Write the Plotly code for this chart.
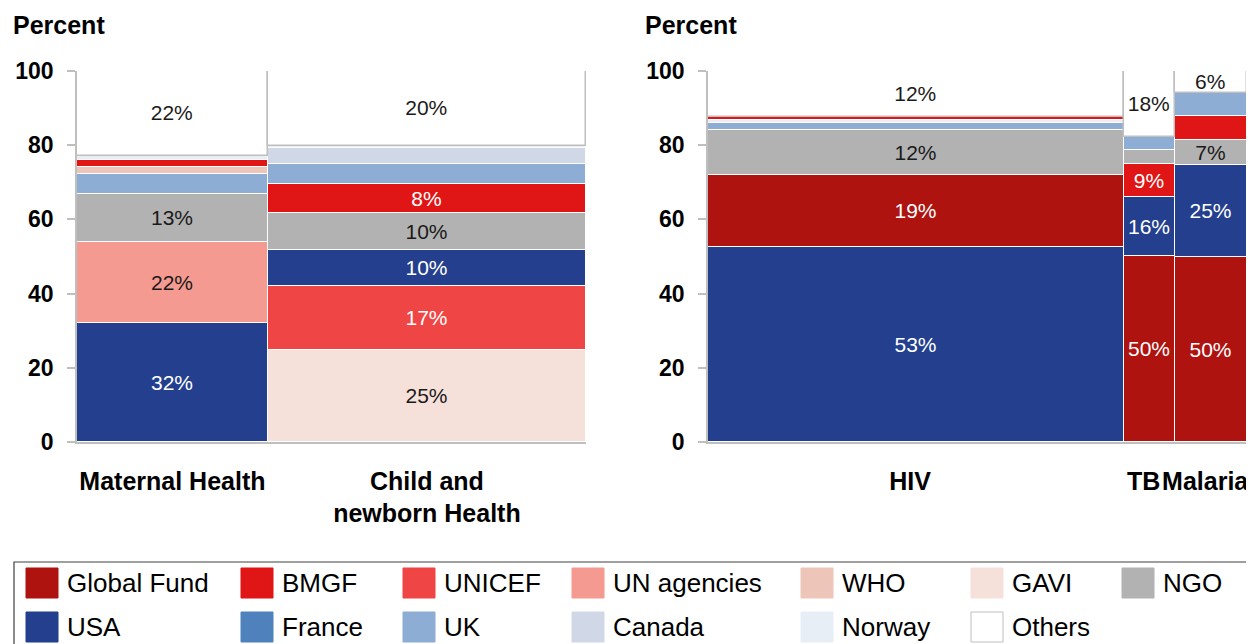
import plotly.graph_objects as go

# the page body adds an 8px offset, so the figure is drawn 8px smaller and
# every reference pixel position is shifted back by that offset
OFF = 8
W, H = 1254 - OFF, 644 - OFF
FONT = "Liberation Sans, Arial, sans-serif"


def px(x):
    return (x - OFF) / W


def py(y):
    return 1 - (y - OFF) / H


# funders in legend order
funders = ["Global Fund", "BMGF", "UNICEF", "UN agencies", "WHO", "GAVI", "NGO",
           "USA", "France", "UK", "Canada", "Norway", "Others"]
funder_colors = {
    "Global Fund": "#ae1310",
    "BMGF": "#e01515",
    "UNICEF": "#ef4545",
    "UN agencies": "#f59a90",
    "WHO": "#edc6b9",
    "GAVI": "#f6e1da",
    "NGO": "#b2b2b2",
    "USA": "#233f8e",
    "France": "#4f81bd",
    "UK": "#8eadd5",
    "Canada": "#d0d8e8",
    "Norway": "#e8eef6",
    "Others": "#ffffff",
}
dark_funders = {"Global Fund", "BMGF", "UNICEF", "USA", "France"}

# --- left panel: maternal / child health ---
mch_categories = ["Maternal Health", "Child and<br>newborn Health"]
mch_widths = [37.5, 62.5]  # share of total funding (bar width)
mch_shares = {
    "USA": [32.0, 9.7],
    "UN agencies": [22.0, 0.0],
    "NGO": [12.8, 10.0],
    "UK": [5.4, 5.4],
    "WHO": [2.0, 0.0],
    "BMGF": [1.8, 7.8],
    "GAVI": [0.0, 24.8],
    "UNICEF": [0.0, 17.2],
    "Canada": [0.0, 4.3],
    "Norway": [1.2, 0.6],
    "Others": [22.8, 20.2],
}
mch_stack = [
    ["USA", "UN agencies", "NGO", "UK", "WHO", "BMGF", "Norway", "Others"],
    ["GAVI", "UNICEF", "USA", "NGO", "BMGF", "UK", "Canada", "Norway", "Others"],
]
mch_labels = [
    {"USA": "32%", "UN agencies": "22%", "NGO": "13%", "Others": "22%"},
    {"GAVI": "25%", "UNICEF": "17%", "USA": "10%", "NGO": "10%", "BMGF": "8%",
     "Others": "20%"},
]

# --- right panel: HIV / TB / Malaria ---
dis_categories = ["HIV", "TB", "Malaria"]
dis_widths = [77.2, 9.5, 13.3]
dis_shares = {
    "USA": [52.5, 16.0, 24.8],
    "Global Fund": [19.6, 50.1, 49.8],
    "NGO": [12.1, 3.8, 6.7],
    "UK": [1.8, 3.4, 6.4],
    "Norway": [0.7, 0.0, 0.0],
    "BMGF": [0.9, 8.9, 6.5],
    "Others": [12.4, 17.8, 5.8],
}
dis_stack = [
    ["USA", "Global Fund", "NGO", "UK", "Norway", "BMGF", "Others"],
    ["Global Fund", "USA", "BMGF", "NGO", "UK", "Others"],
    ["Global Fund", "USA", "NGO", "BMGF", "UK", "Others"],
]
dis_labels = [
    {"USA": "53%", "Global Fund": "19%", "NGO": "12%", "Others": "12%"},
    {"Global Fund": "50%", "USA": "16%", "BMGF": "9%", "Others": "18%"},
    {"Global Fund": "50%", "USA": "25%", "NGO": "7%", "Others": "6%"},
]


def add_panel(fig, categories, widths, shares, stack, labels, xref, yref):
    centers = []
    left = 0.0
    for w in widths:
        centers.append(left + w / 2)
        left += w

    for funder in funders:
        if funder not in shares:
            continue
        vals = shares[funder]
        bases, texts = [], []
        for i, order in enumerate(stack):
            if funder in order:
                below = order[:order.index(funder)]
                bases.append(sum(shares[f][i] for f in below))
            else:
                bases.append(0.0)
            texts.append(labels[i].get(funder, ""))

        is_other = funder == "Others"
        fig.add_trace(go.Bar(
            x=centers,
            y=vals,
            base=bases,
            width=widths,
            name=funder,
            text=texts,
            textposition="inside",
            insidetextanchor="middle",
            textangle=0,
            textfont=dict(
                family=FONT, size=21,
                color="white" if funder in dark_funders else "#1a1a1a",
            ),
            marker=dict(
                color=funder_colors[funder],
                line=dict(color="#bfbfbf" if is_other else "white",
                          width=1.5 if is_other else 1),
            ),
            showlegend=False,
            xaxis=xref,
            yaxis=yref,
        ))
    return centers, left


fig = go.Figure()
mch_centers, mch_total = add_panel(fig, mch_categories, mch_widths, mch_shares,
                                   mch_stack, mch_labels, "x", "y")
dis_centers, dis_total = add_panel(fig, dis_categories, dis_widths, dis_shares,
                                   dis_stack, dis_labels, "x2", "y2")

y_dom = [py(442), py(71)]
xaxis_common = dict(
    showline=True, linecolor="#bfbfbf", linewidth=1.5,
    ticks="", showgrid=False, zeroline=False, automargin=False,
    ticklabeloverflow="allow", tickangle=0,
    tickfont=dict(family=FONT, size=25, color="black", weight="bold"),
    ticklabelstandoff=16,
)
yaxis_common = dict(
    range=[0, 100], dtick=20,
    showline=True, linecolor="#bfbfbf", linewidth=1.5,
    ticks="outside", ticklen=8, tickcolor="#bfbfbf", tickwidth=1.5,
    showgrid=False, zeroline=False, automargin=False,
    tickfont=dict(family=FONT, size=23, color="black", weight="bold"),
    ticklabelstandoff=9,
)

fig.update_layout(
    width=W, height=H,
    margin=dict(l=0, r=0, t=0, b=0, autoexpand=False),
    paper_bgcolor="white", plot_bgcolor="white",
    barmode="overlay",
    bargap=0,
    uniformtext=dict(minsize=21, mode="show"),
    font=dict(family=FONT, color="black"),
    xaxis=dict(domain=[px(77), px(586)], range=[0, mch_total],
               tickvals=mch_centers, ticktext=mch_categories, **xaxis_common),
    yaxis=dict(domain=y_dom, anchor="x", **yaxis_common),
    xaxis2=dict(domain=[px(708), px(1247)], range=[0, dis_total], anchor="y2",
                tickvals=dis_centers, ticktext=dis_categories,
                ticklabelshift=-6, **xaxis_common),
    yaxis2=dict(domain=y_dom, anchor="x2", **yaxis_common),
)

# "Percent" axis titles
for x_left in (14, 646):
    fig.add_annotation(
        x=px(x_left - 3), y=py(25), xref="paper", yref="paper",
        xanchor="left", yanchor="middle", showarrow=False,
        text="<b>Percent</b>", font=dict(family=FONT, size=25, color="black"),
    )

# legend drawn as a framed grid of swatches
legend_cols = [26, 241, 403, 572, 801, 971, 1122]
legend_rows = [583, 627]
sw_w, sw_h = 32, 30

fig.add_shape(type="rect", xref="paper", yref="paper",
              x0=px(14), x1=px(1252), y0=-0.05, y1=py(562),
              line=dict(color="#404040", width=1.2), fillcolor="rgba(0,0,0,0)")

for k, funder in enumerate(funders):
    col, row = k % 7, k // 7
    x0 = legend_cols[col]
    yc = legend_rows[row]
    edge = "#bfbfbf" if funder == "Others" else funder_colors[funder]
    fig.add_shape(type="rect", xref="paper", yref="paper",
                  x0=px(x0), x1=px(x0 + sw_w),
                  y0=py(yc + sw_h / 2), y1=py(yc - sw_h / 2),
                  fillcolor=funder_colors[funder], line=dict(color=edge, width=1))
    fig.add_annotation(
        x=px(x0 + sw_w + 7), y=py(yc), xref="paper", yref="paper",
        xanchor="left", yanchor="middle", showarrow=False,
        text=funder, font=dict(family=FONT, size=26, color="black"),
    )

fig.write_html("out.html")
